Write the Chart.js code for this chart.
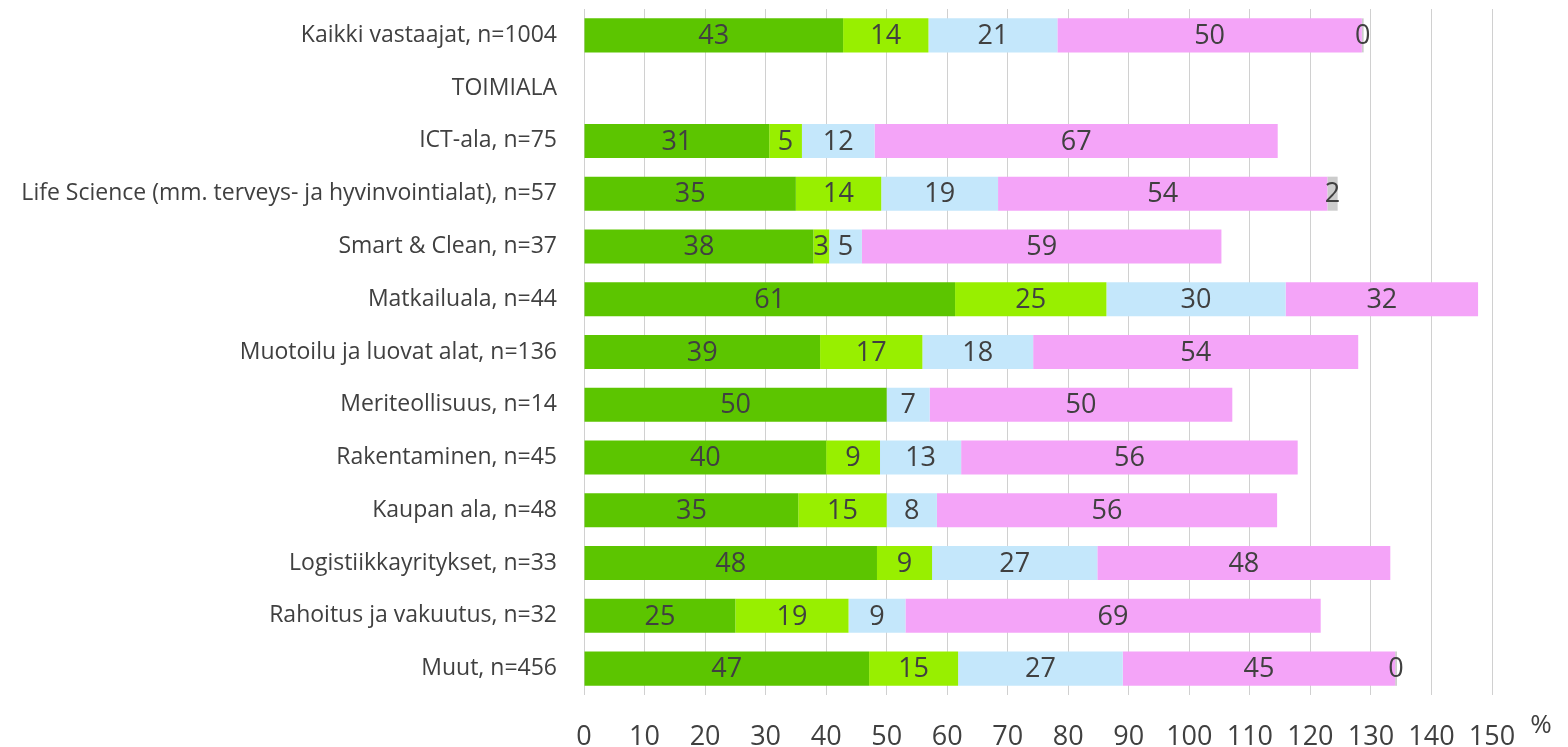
<!DOCTYPE html>
<html>
<head>
<meta charset="utf-8">
<script src="https://cdn.jsdelivr.net/npm/chart.js@4/dist/chart.umd.min.js"></script>
<style>
  html, body { margin: 0; padding: 0; background: #ffffff; }
  #wrap { width: 1568px; height: 747px; position: relative; }
</style>
</head>
<body>
<div id="wrap"><canvas id="c"></canvas></div>
<script>
const categories = [
  "Kaikki vastaajat, n=1004",
  "TOIMIALA",
  "ICT-ala, n=75",
  "Life Science (mm. terveys- ja hyvinvointialat), n=57",
  "Smart & Clean, n=37",
  "Matkailuala, n=44",
  "Muotoilu ja luovat alat, n=136",
  "Meriteollisuus, n=14",
  "Rakentaminen, n=45",
  "Kaupan ala, n=48",
  "Logistiikkayritykset, n=33",
  "Rahoitus ja vakuutus, n=32",
  "Muut, n=456"
];
const series1 = [42.8, null, 30.6, 35.0, 37.9, 61.3, 39.0, 50.0, 40.0, 35.4, 48.4, 25.0, 47.1];
const series2 = [14.1, null, 5.4, 14.1, 2.6, 25.0, 16.9, null, 8.9, 14.6, 9.1, 18.7, 14.7];
const series3 = [21.3, null, 12.0, 19.3, 5.4, 29.6, 18.3, 7.1, 13.4, 8.3, 27.3, 9.4, 27.2];
const series4 = [50.3, null, 66.6, 54.4, 59.4, 31.8, 53.7, 50.0, 55.6, 56.2, 48.4, 68.6, 45.0];
const series5 = [0.3, null, null, 1.7, null, null, null, null, null, null, null, null, 0.3];
const xTicks = [0, 10, 20, 30, 40, 50, 60, 70, 80, 90, 100, 110, 120, 130, 140, 150];
const axisUnit = "%";

const FONT = "'Open Sans', 'Noto Sans', sans-serif";
const TEXT = "#404040";

const valueLabels = {
  id: "valueLabels",
  afterDatasetsDraw(chart) {
    const ctx = chart.ctx;
    ctx.save();
    ctx.font = "27px " + FONT;
    ctx.fillStyle = TEXT;
    ctx.textAlign = "center";
    ctx.textBaseline = "middle";
    chart.data.datasets.forEach((ds, di) => {
      const meta = chart.getDatasetMeta(di);
      meta.data.forEach((el, i) => {
        const v = ds.data[i];
        if (v === null || v === undefined) return;
        const p = el.getProps(["x", "y", "base"], true);
        ctx.fillText(String(Math.round(v)), (p.x + p.base) / 2, p.y + 1);
      });
    });
    ctx.restore();
  }
};

const unitLabel = {
  id: "unitLabel",
  afterDraw(chart) {
    const ctx = chart.ctx;
    const xs = chart.scales.x;
    ctx.save();
    ctx.font = "26px " + FONT;
    ctx.fillStyle = TEXT;
    ctx.textAlign = "center";
    ctx.textBaseline = "middle";
    ctx.fillText(axisUnit, xs.right + 49, xs.top + 31);
    ctx.restore();
  }
};

new Chart(document.getElementById("c"), {
  type: "bar",
  data: {
    labels: categories,
    datasets: [
      { label: "1", data: series1, backgroundColor: "#5cc500" },
      { label: "2", data: series2, backgroundColor: "#98ef00" },
      { label: "3", data: series3, backgroundColor: "#c4e7fb" },
      { label: "4", data: series4, backgroundColor: "#f4a4f8" },
      { label: "5", data: series5, backgroundColor: "#cccccc" }
    ].map(d => Object.assign(d, { categoryPercentage: 1.0, barPercentage: 0.645, borderWidth: 0 }))
  },
  options: {
    indexAxis: "y",
    responsive: true,
    maintainAspectRatio: false,
    animation: false,
    layout: { padding: { top: 9, right: 76, bottom: 0, left: 0 } },
    plugins: {
      legend: { display: false },
      tooltip: { enabled: false }
    },
    scales: {
      x: {
        stacked: true,
        min: 0,
        max: 150,
        afterFit(s) { s.height = 52; s.paddingLeft = 0; s.paddingRight = 0; },
        afterBuildTicks(s) { s.ticks = xTicks.map(v => ({ value: v })); },
        border: { display: false },
        grid: { color: "#d0d0d0", lineWidth: 1, drawTicks: false },
        ticks: {
          color: TEXT,
          font: { family: FONT, size: 27 },
          padding: 26,
          maxRotation: 0,
          autoSkip: false
        }
      },
      y: {
        stacked: true,
        afterFit(s) { s.width = 584; s.paddingTop = 0; s.paddingBottom = 0; },
        border: { display: false },
        grid: { display: false, drawTicks: false },
        ticks: {
          color: TEXT,
          font: { family: FONT, size: 23 },
          padding: 27,
          autoSkip: false
        }
      }
    }
  },
  plugins: [valueLabels, unitLabel]
});
</script>
</body>
</html>
